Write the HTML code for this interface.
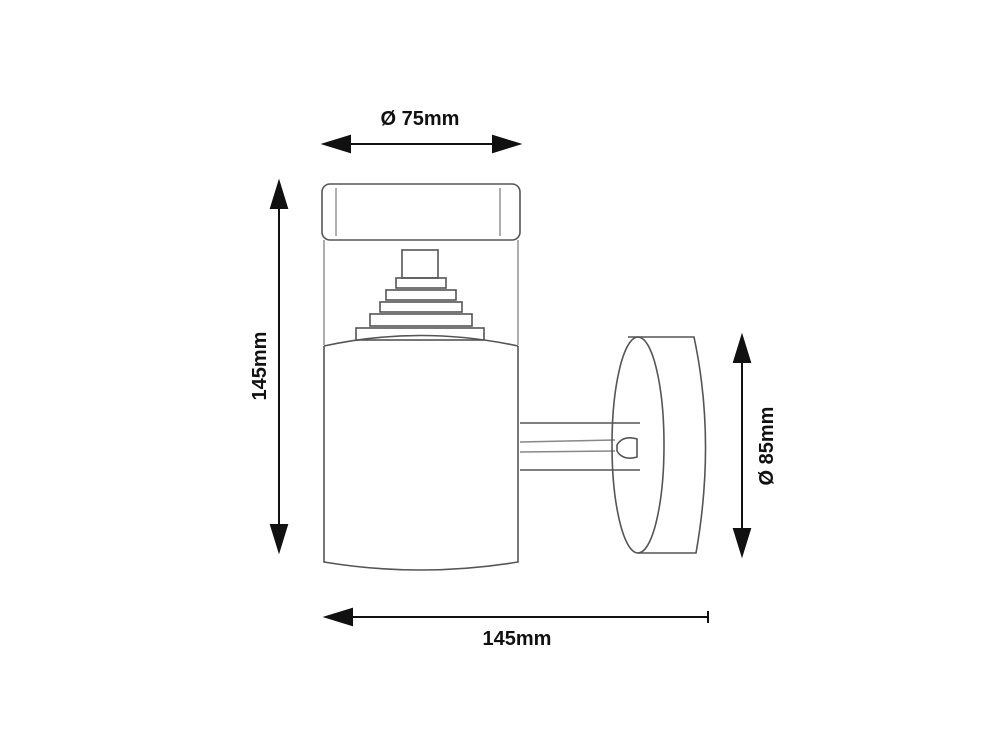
<!DOCTYPE html>
<html><head><style>
html,body{margin:0;padding:0;background:#fff;width:1000px;height:750px;overflow:hidden}
text{font-family:"Liberation Sans",sans-serif;font-weight:bold;font-size:20px;fill:#111}
</style></head><body>
<svg width="1000" height="750" viewBox="0 0 1000 750" xmlns="http://www.w3.org/2000/svg">
<g stroke="#111" stroke-width="2" fill="#111">
<line x1="340" y1="144" x2="503" y2="144"/>
<polygon points="324,144 350,136 350,152"/>
<polygon points="519,144 493,136 493,152"/>
<line x1="279" y1="198" x2="279" y2="535"/>
<polygon points="279,182 271,208 287,208"/>
<polygon points="279,551 271,525 287,525"/>
<line x1="340" y1="617" x2="708" y2="617"/>
<line x1="708" y1="611" x2="708" y2="623"/>
<polygon points="326,617 352,609 352,625"/>
<line x1="742" y1="352" x2="742" y2="540"/>
<polygon points="742,336 734,362 750,362"/>
<polygon points="742,555 734,529 750,529"/>
</g>
<text x="420" y="125" text-anchor="middle">Ø 75mm</text>
<text x="517" y="645" text-anchor="middle">145mm</text>
<text transform="translate(266,366) rotate(-90)" text-anchor="middle">145mm</text>
<text transform="translate(773,446) rotate(-90)" text-anchor="middle">Ø 85mm</text>
<g fill="none" stroke="#555" stroke-width="1.6">
<rect x="322" y="184" width="198" height="56" rx="8"/>
<line x1="336" y1="188" x2="336" y2="236" stroke="#999"/>
<line x1="500" y1="188" x2="500" y2="236" stroke="#999"/>
<line x1="324" y1="240" x2="324" y2="345" stroke="#999"/>
<line x1="518" y1="240" x2="518" y2="345" stroke="#999"/>
<rect x="402" y="250" width="36" height="28"/>
<rect x="396" y="278" width="50" height="10"/>
<rect x="386" y="290" width="70" height="10"/>
<rect x="380" y="302" width="82" height="10"/>
<rect x="370" y="314" width="102" height="12"/>
<rect x="356" y="328" width="128" height="12"/>
<path d="M324 346 Q420 325 518 346"/>
<path d="M324 346 L324 562 Q420 578 518 562 L518 346"/>
<line x1="520" y1="423" x2="640" y2="423"/>
<line x1="520" y1="470" x2="640" y2="470"/>
<line x1="520" y1="442" x2="615" y2="440" stroke="#888"/>
<line x1="520" y1="452" x2="615" y2="451" stroke="#888"/>
<path d="M617 445 q6 -10 20 -6 l0 18 q-14 4 -20 -6z"/>
<ellipse cx="638" cy="445" rx="26" ry="108"/>
<path d="M628 337 L694 337 Q716 440 696 553 L638 553"/>
</g>
</svg>
</body></html>
